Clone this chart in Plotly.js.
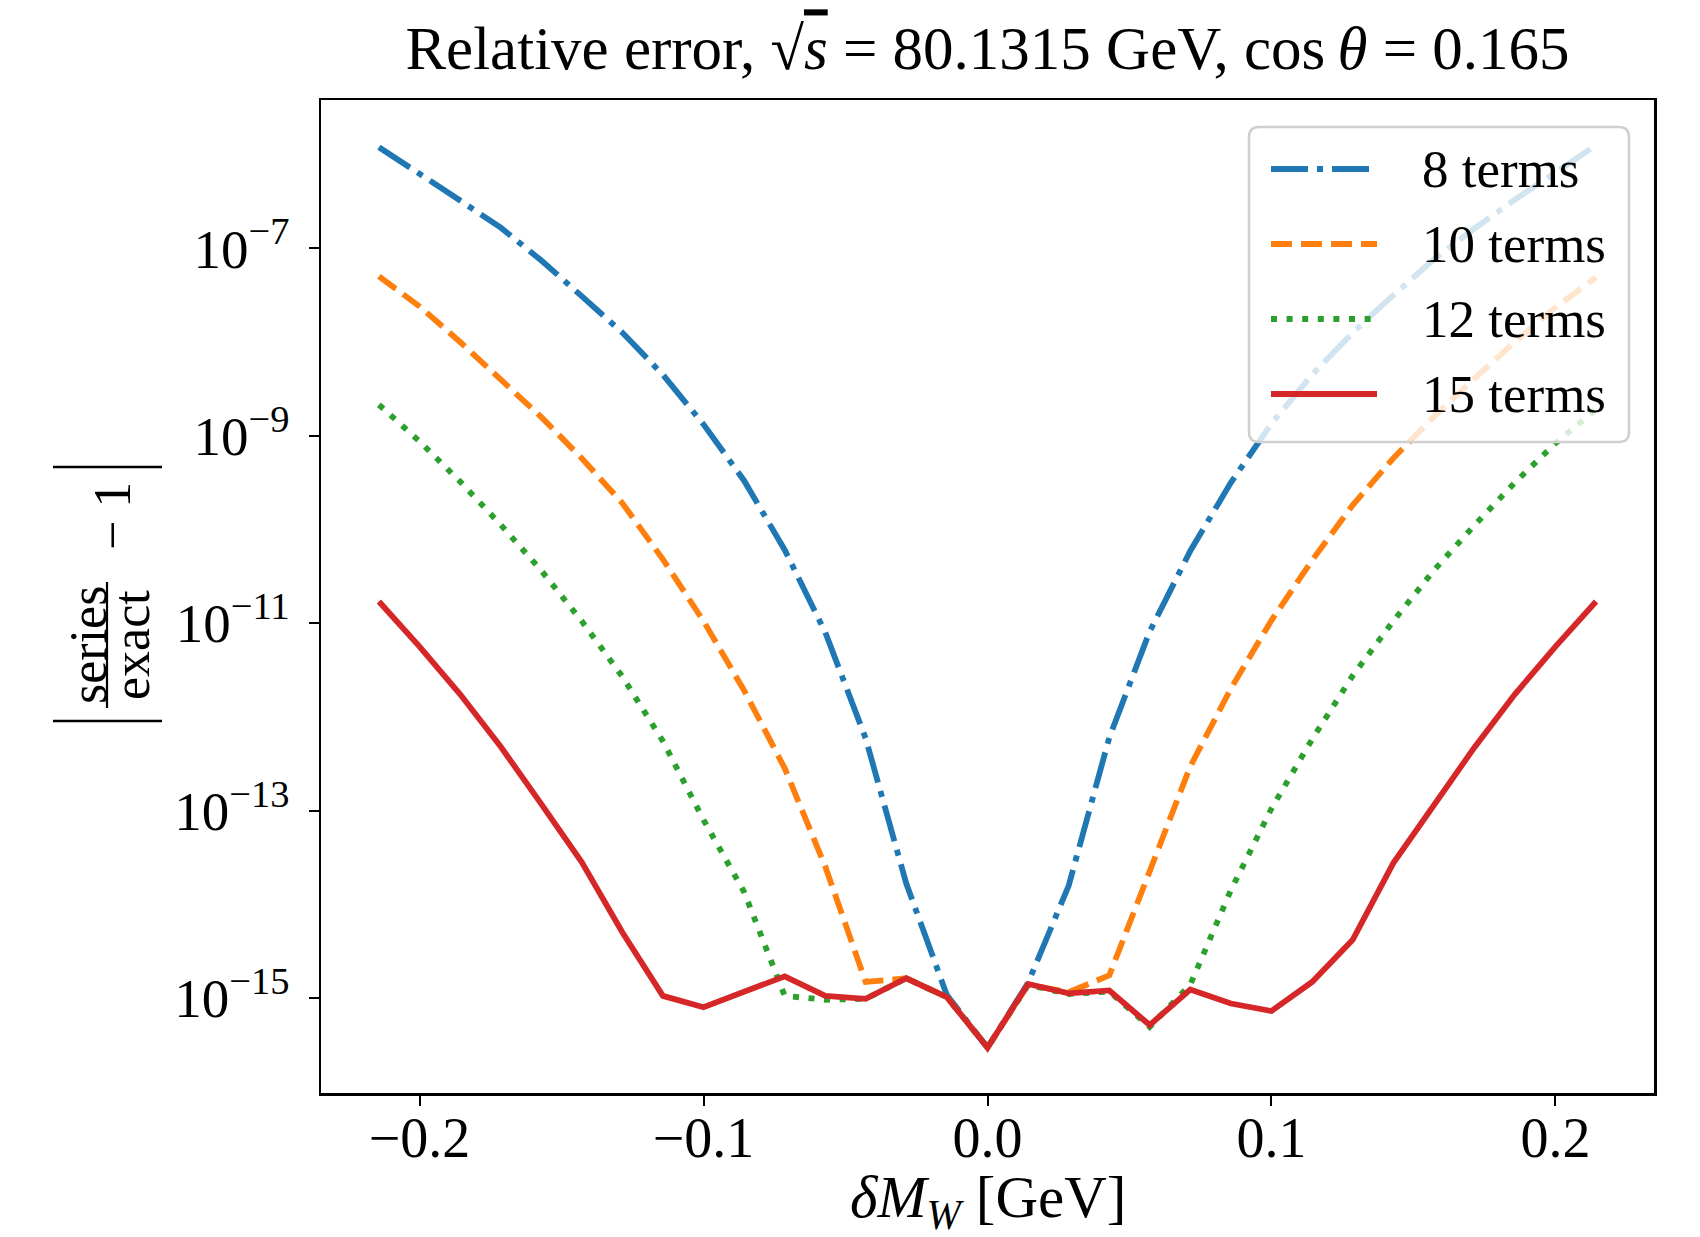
<!DOCTYPE html>
<html>
<head>
<meta charset="utf-8">
<script src="https://cdn.plot.ly/plotly-3.0.1.min.js"></script>
<style>
  html, body { margin: 0; padding: 0; background: #ffffff; }
  #chart { width: 1700px; height: 1237px; }
</style>
</head>
<body>
<div id="chart"></div>
<script>
// ---- data ----
const deltaMW = [-0.2143, -0.2, -0.1857, -0.1714, -0.1571, -0.1429, -0.1286, -0.1143, -0.1, -0.0857,
                 -0.0714, -0.0571, -0.0429, -0.0286, -0.0143, 0, 0.0143, 0.0286, 0.0429, 0.0571,
                 0.0714, 0.0857, 0.1, 0.1143, 0.1286, 0.1429, 0.1571, 0.1714, 0.1857, 0.2, 0.2143];

const err8 = [1.20e-6, 6.31e-7, 3.24e-7, 1.66e-7, 7.41e-8, 3.09e-8, 1.26e-8, 4.47e-9, 1.32e-9, 3.31e-10,
              6.03e-11, 7.94e-12, 5.89e-13, 1.66e-14, 1.07e-15, 2.95e-16, 1.45e-15, 1.58e-14, 6.03e-13, 8.13e-12,
              5.89e-11, 3.16e-10, 1.35e-9, 4.47e-9, 1.26e-8, 3.16e-8, 7.59e-8, 1.62e-7, 3.31e-7, 6.46e-7, 1.26e-6];

const err10 = [5.01e-8, 2.40e-8, 1.00e-8, 4.07e-9, 1.58e-9, 5.75e-10, 1.91e-10, 4.79e-11, 1.05e-11, 1.91e-12,
               2.82e-13, 2.51e-14, 1.48e-15, 1.62e-15, 1.02e-15, 2.95e-16, 1.38e-15, 1.15e-15, 1.74e-15, 2.24e-14,
               2.95e-13, 2.00e-12, 1.07e-11, 4.68e-11, 1.82e-10, 5.75e-10, 1.58e-9, 4.07e-9, 1.00e-8, 2.34e-8, 4.90e-8];

const err12 = [2.14e-9, 8.71e-10, 3.24e-10, 1.12e-10, 3.63e-11, 1.05e-11, 2.69e-12, 5.50e-13, 7.94e-14, 1.35e-14,
               1.05e-15, 9.55e-16, 9.77e-16, 1.62e-15, 1.02e-15, 2.95e-16, 1.38e-15, 1.10e-15, 1.17e-15, 4.90e-16,
               1.38e-15, 1.41e-14, 1.05e-13, 5.75e-13, 2.75e-12, 1.05e-11, 3.63e-11, 1.10e-10, 3.16e-10, 8.32e-10, 1.91e-9];

const err15 = [1.70e-11, 5.62e-12, 1.74e-12, 4.79e-13, 1.17e-13, 2.82e-14, 5.01e-15, 1.05e-15, 7.94e-16, 1.17e-15,
               1.70e-15, 1.05e-15, 9.77e-16, 1.62e-15, 1.02e-15, 2.95e-16, 1.41e-15, 1.12e-15, 1.20e-15, 5.13e-16,
               1.23e-15, 8.71e-16, 7.24e-16, 1.48e-15, 4.17e-15, 2.75e-14, 1.15e-13, 4.68e-13, 1.74e-12, 5.62e-12, 1.70e-11];

const seriesNames = ['8 terms', '10 terms', '12 terms', '15 terms'];
const xTickVals = [-0.2, -0.1, 0.0, 0.1, 0.2];
const xTickText = ['\u22120.2', '\u22120.1', '0.0', '0.1', '0.2'];
const yTickVals = [1e-15, 1e-13, 1e-11, 1e-9, 1e-7];
const yTickText = ['10<sup>\u221215</sup>', '10<sup>\u221213</sup>', '10<sup>\u221211</sup>', '10<sup>\u22129</sup>', '10<sup>\u22127</sup>'];

// ---- styles ----
const FONT = 'Liberation Serif, Times New Roman, serif';
const colors = ['#1f77b4', '#ff7f0e', '#2ca02c', '#d62728'];
const dashes = ['37px,9px,6px,9px', '21px,9px', '6px,9.6px', 'solid'];
const LW = 5.8;
const allSeries = [err8, err10, err12, err15];

const traces = allSeries.map((ys, i) => ({
  x: deltaMW, y: ys, type: 'scatter', mode: 'lines', name: seriesNames[i],
  line: { color: colors[i], width: LW, dash: dashes[i] },
  showlegend: false, hoverinfo: 'x+y+name'
}));

// plot area in pixels
const W = 1700, H = 1237;
const L = 321, R = 1654, T = 100, B = 1093;
const px = v => (v - L) / (R - L);     // pixel x -> paper
const py = v => (B - v) / (B - T);     // pixel y -> paper

// manual legend (matplotlib-style rounded box)
const bx0 = px(1249), bx1 = px(1629), by0 = py(127), by1 = py(442);
const rx = 10 / (R - L), ry = 10 / (B - T);
const boxPath = `M ${bx0 + rx},${by0} L ${bx1 - rx},${by0} Q ${bx1},${by0} ${bx1},${by0 - ry} ` +
                `L ${bx1},${by1 + ry} Q ${bx1},${by1} ${bx1 - rx},${by1} L ${bx0 + rx},${by1} ` +
                `Q ${bx0},${by1} ${bx0},${by1 + ry} L ${bx0},${by0 - ry} Q ${bx0},${by0} ${bx0 + rx},${by0} Z`;

const shapes = [{
  type: 'path', xref: 'paper', yref: 'paper', path: boxPath, layer: 'above',
  fillcolor: 'rgba(255,255,255,0.8)', line: { color: '#cfcfcf', width: 2.5 }
}];
const annotations = [];
const rowY = [169, 244, 319, 394];
seriesNames.forEach((n, i) => {
  shapes.push({
    type: 'line', xref: 'paper', yref: 'paper', layer: 'above',
    x0: px(1271), x1: px(1377), y0: py(rowY[i]), y1: py(rowY[i]),
    line: { color: colors[i], width: LW, dash: dashes[i] }
  });
  annotations.push({
    xref: 'paper', yref: 'paper', x: px(1420), y: py(rowY[i]), xanchor: 'left', yanchor: 'middle',
    text: n, showarrow: false, font: { family: FONT, size: 53, color: '#000' }
  });
});

// y-axis label: |series/exact - 1| drawn rotated
const yl = { family: FONT, size: 52, color: '#000' };
annotations.push(
  { xref: 'paper', yref: 'paper', x: px(88), y: py(645), text: 'series', textangle: -90,
    showarrow: false, xanchor: 'center', yanchor: 'middle', font: yl },
  { xref: 'paper', yref: 'paper', x: px(131), y: py(645), text: 'exact', textangle: -90,
    showarrow: false, xanchor: 'center', yanchor: 'middle', font: yl },
  { xref: 'paper', yref: 'paper', x: px(112), y: py(516), text: '\u2212 1', textangle: -90,
    showarrow: false, xanchor: 'center', yanchor: 'middle', font: yl }
);
// x-axis label
annotations.push({
  xref: 'paper', yref: 'paper', x: 0.5, y: py(1201), xanchor: 'center', yanchor: 'middle',
  text: '<i>\u03B4M</i><sub><i>W</i></sub> [GeV]', showarrow: false,
  font: { family: FONT, size: 59, color: '#000' }
});
shapes.push(
  { type: 'line', xref: 'paper', yref: 'paper', x0: px(107), x1: px(107), y0: py(582), y1: py(708),
    line: { color: '#000', width: 2.2 } },
  { type: 'line', xref: 'paper', yref: 'paper', x0: px(53), x1: px(162), y0: py(467), y1: py(467),
    line: { color: '#000', width: 2.4 } },
  { type: 'line', xref: 'paper', yref: 'paper', x0: px(53), x1: px(162), y0: py(721), y1: py(721),
    line: { color: '#000', width: 2.4 } }
);

const layout = {
  width: W, height: H,
  margin: { l: L, r: W - R, t: T, b: H - B, pad: 0 },
  paper_bgcolor: '#ffffff', plot_bgcolor: '#ffffff',
  showlegend: false,
  font: { family: FONT, size: 50, color: '#000' },
  title: {
    text: 'Relative error, \u221A<span style="text-decoration:overline"><i>s</i></span> = 80.1315 GeV, cos\u2009<i>\u03B8</i> = 0.165',
    font: { family: FONT, size: 61, color: '#000' },
    xref: 'paper', x: 0.5, xanchor: 'center',
    yref: 'container', y: 1 - 48 / H, yanchor: 'middle'
  },
  xaxis: {
    range: [-0.2347, 0.2347], showgrid: false, zeroline: false,
    showline: true, mirror: true, linecolor: '#000', linewidth: 2.5,
    ticks: 'outside', ticklen: 10, tickwidth: 2, tickcolor: '#000',
    tickvals: xTickVals, ticktext: xTickText,
    tickfont: { family: FONT, size: 56, color: '#000' },
    ticklabelstandoff: -16,
    automargin: false
  },
  yaxis: {
    type: 'log', range: [-16.015, -5.417], showgrid: false, zeroline: false,
    showline: true, mirror: true, linecolor: '#000', linewidth: 2.5,
    ticks: 'outside', ticklen: 10, tickwidth: 2, tickcolor: '#000',
    tickvals: yTickVals, ticktext: yTickText,
    tickfont: { family: FONT, size: 55, color: '#000' },
    ticklabelstandoff: 8,
    automargin: false
  },
  shapes: shapes,
  annotations: annotations
};

Plotly.newPlot('chart', traces, layout, { displayModeBar: false, staticPlot: true });
</script>
</body>
</html>
